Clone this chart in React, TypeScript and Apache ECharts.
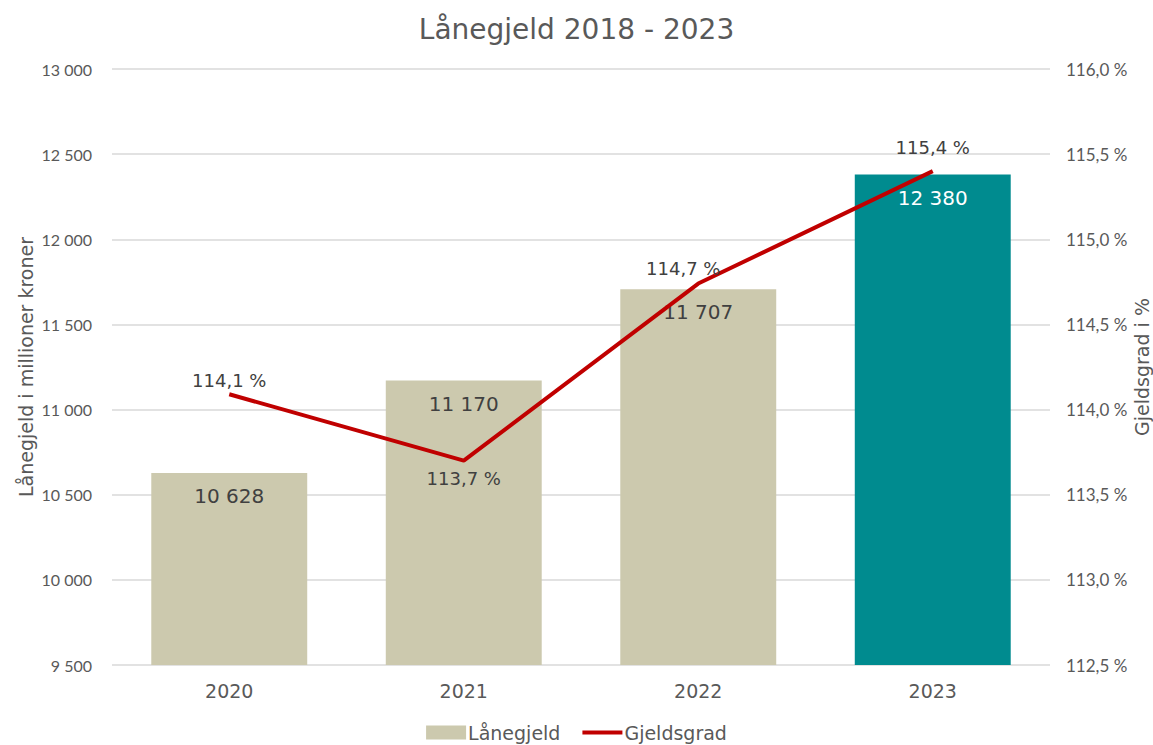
import React, { useEffect, useRef } from "react";
import * as echarts from "echarts";

const categories = ["2020", "2021", "2022", "2023"];
const loanDebt = [10628, 11170, 11707, 12380];
const debtRatio = [114.09, 113.7, 114.74, 115.4];
const titleText = "Lånegjeld 2018 - 2023";

const fmtThousands = (v: number) =>
  String(Math.round(v)).replace(/\B(?=(\d{3})+(?!\d))/g, " ");
const fmtPct = (v: number) => v.toFixed(1).replace(".", ",") + " %";

export default function App() {
  const ref = useRef<HTMLDivElement>(null);
  useEffect(() => {
    if (!ref.current) return;
    const chart = echarts.init(ref.current, null, { renderer: "svg" });
    const labelFont = "DejaVu Sans, Verdana, sans-serif";
    const lineLabelCfg = [
      { position: "top", distance: 5, offset: [0, 0] },
      { position: "bottom", distance: 9, offset: [0, 0] },
      { position: "top", distance: 6, offset: [-15, 0] },
      { position: "top", distance: 15, offset: [0, 0] },
    ];
    chart.setOption({
      animation: false,
      title: {
        text: titleText,
        left: "center",
        top: 10,
        textStyle: { fontFamily: labelFont, fontSize: 28, fontWeight: "normal", color: "#595959" },
      },
      grid: { left: 112, right: 103, top: 69, bottom: 80, outerBoundsMode: "none", containLabel: false },
      legend: {
        top: 718,
        left: "center",
        itemGap: 22,
        itemWidth: 40,
        itemHeight: 14,
        textStyle: { fontFamily: labelFont, fontSize: 19, color: "#595959", padding: [0, 0, 0, -3] },
        data: [
          { name: "Lånegjeld", icon: "rect", itemStyle: { color: "#CCC9AE" } },
          {
            name: "Gjeldsgrad",
            icon: "path://M0,0 L40,0 L40,4 L0,4 Z",
            itemStyle: { color: "#C00000", borderWidth: 0 },
          },
        ],
      },
      xAxis: {
        type: "category",
        data: categories,
        axisLine: { show: false },
        axisTick: { show: false },
        axisLabel: { fontFamily: labelFont, fontSize: 19, color: "#595959", margin: 16 },
      },
      yAxis: [
        {
          type: "value",
          min: 9500,
          max: 13000,
          interval: 500,
          name: "Lånegjeld i millioner kroner",
          nameLocation: "middle",
          nameRotate: 90,
          nameGap: 77,
          nameMoveOverlap: false,
          nameTextStyle: { fontFamily: labelFont, fontSize: 19, color: "#595959" },
          axisLabel: {
            fontFamily: "Lato, sans-serif",
            fontSize: 16,
            color: "#595959",
            margin: 20,
            formatter: (v: number) => fmtThousands(v),
          },
          splitLine: { lineStyle: { color: "#D9D9D9", width: 1.5 } },
          axisLine: { show: false },
          axisTick: { show: false },
        },
        {
          type: "value",
          min: 112.5,
          max: 116,
          interval: 0.5,
          position: "right",
          name: "Gjeldsgrad i %",
          nameLocation: "middle",
          nameRotate: 90,
          nameGap: 82,
          nameMoveOverlap: false,
          nameTextStyle: { fontFamily: labelFont, fontSize: 19, color: "#595959" },
          axisLabel: {
            fontFamily: "Lato, sans-serif",
            fontSize: 17,
            color: "#595959",
            margin: 16,
            formatter: (v: number) => v.toFixed(1).replace(".", ",") + " %",
          },
          splitLine: { show: false },
          axisLine: { show: false },
          axisTick: { show: false },
        },
      ],
      series: [
        {
          name: "Lånegjeld",
          type: "bar",
          barCategoryGap: "33.5%",
          data: loanDebt.map((v, i) => ({
            value: v,
            itemStyle: { color: i === loanDebt.length - 1 ? "#008B8F" : "#CCC9AE" },
            label: { color: i === loanDebt.length - 1 ? "#FFFFFF" : "#404040" },
          })),
          label: {
            show: true,
            position: "insideTop",
            distance: 13,
            fontFamily: labelFont,
            fontSize: 20,
            formatter: (p: any) => fmtThousands(p.value),
          },
        },
        {
          name: "Gjeldsgrad",
          type: "line",
          yAxisIndex: 1,
          symbol: "circle",
          symbolSize: 0,
          showSymbol: true,
          itemStyle: { color: "#C00000" },
          lineStyle: { color: "#C00000", width: 4 },
          data: debtRatio.map((v, i) => ({
            value: v,
            label: {
              show: true,
              position: lineLabelCfg[i].position,
              distance: lineLabelCfg[i].distance,
              offset: lineLabelCfg[i].offset,
              fontFamily: labelFont,
              fontSize: 18,
              color: "#404040",
              formatter: (p: any) => fmtPct(p.value),
            },
          })),
        },
      ],
    });
    return () => chart.dispose();
  }, []);
  return (
    <div
      ref={ref}
      style={{ position: "absolute", left: 0, top: 0, width: 1153, height: 745 }}
    />
  );
}
